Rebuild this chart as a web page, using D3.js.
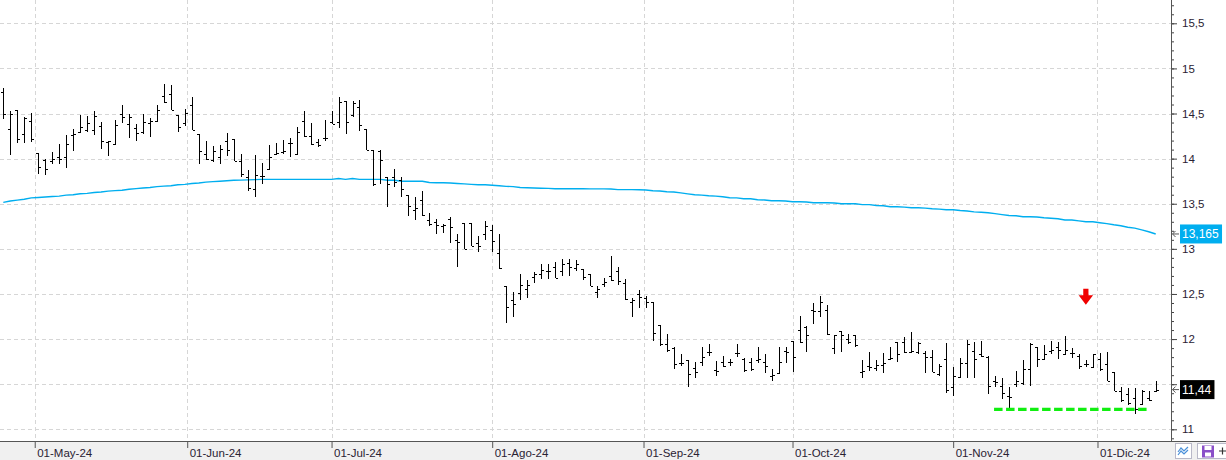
<!DOCTYPE html>
<html><head><meta charset="utf-8">
<script src="https://cdn.jsdelivr.net/npm/d3@7"></script>
<style>
html,body{margin:0;padding:0;background:#fff;}
svg{display:block;font-family:"Liberation Sans",Arial,sans-serif;}
</style></head>
<body>
<svg id="chart" width="1226" height="460"></svg>
<script>
const dates = [
"2024-04-24","2024-04-25","2024-04-26","2024-04-29","2024-04-30",
"2024-05-02","2024-05-03","2024-05-06","2024-05-07","2024-05-08","2024-05-09","2024-05-10","2024-05-13","2024-05-14","2024-05-15","2024-05-16","2024-05-17","2024-05-20","2024-05-21","2024-05-22","2024-05-23","2024-05-24","2024-05-27","2024-05-28","2024-05-29","2024-05-30","2024-05-31",
"2024-06-03","2024-06-04","2024-06-05","2024-06-06","2024-06-07","2024-06-10","2024-06-11","2024-06-12","2024-06-13","2024-06-14","2024-06-17","2024-06-18","2024-06-19","2024-06-20","2024-06-21","2024-06-24","2024-06-25","2024-06-26","2024-06-27","2024-06-28",
"2024-07-01","2024-07-02","2024-07-03","2024-07-04","2024-07-05","2024-07-08","2024-07-09","2024-07-10","2024-07-11","2024-07-12","2024-07-15","2024-07-16","2024-07-17","2024-07-18","2024-07-19","2024-07-22","2024-07-23","2024-07-24","2024-07-25","2024-07-26","2024-07-29","2024-07-30","2024-07-31",
"2024-08-01","2024-08-02","2024-08-05","2024-08-06","2024-08-07","2024-08-08","2024-08-09","2024-08-12","2024-08-13","2024-08-14","2024-08-15","2024-08-16","2024-08-19","2024-08-20","2024-08-21","2024-08-22","2024-08-23","2024-08-26","2024-08-27","2024-08-28","2024-08-29","2024-08-30",
"2024-09-02","2024-09-03","2024-09-04","2024-09-05","2024-09-06","2024-09-09","2024-09-10","2024-09-11","2024-09-12","2024-09-13","2024-09-16","2024-09-17","2024-09-18","2024-09-19","2024-09-20","2024-09-23","2024-09-24","2024-09-25","2024-09-26","2024-09-27","2024-09-30",
"2024-10-01","2024-10-02","2024-10-03","2024-10-04","2024-10-07","2024-10-08","2024-10-09","2024-10-10","2024-10-11","2024-10-14","2024-10-15","2024-10-16","2024-10-17","2024-10-18","2024-10-21","2024-10-22","2024-10-23","2024-10-24","2024-10-25","2024-10-28","2024-10-29","2024-10-30","2024-10-31",
"2024-11-01","2024-11-04","2024-11-05","2024-11-06","2024-11-07","2024-11-08","2024-11-11","2024-11-12","2024-11-13","2024-11-14","2024-11-15","2024-11-18","2024-11-19","2024-11-20","2024-11-21","2024-11-22","2024-11-25","2024-11-26","2024-11-27","2024-11-28","2024-11-29",
"2024-12-02","2024-12-03","2024-12-04","2024-12-05","2024-12-06","2024-12-09","2024-12-10","2024-12-11","2024-12-12"
];
const openV = [14.74,14.33,14.54,14.27,14.42,14.06,13.98,13.97,14.02,14.02,14.26,14.29,14.32,14.32,14.36,14.18,14.16,14.50,14.38,14.34,14.30,14.40,14.42,14.69,14.72,14.48,14.40,14.60,14.27,14.05,13.99,14.02,14.20,14.22,13.97,13.80,13.66,13.81,13.88,14.05,14.07,14.17,14.05,14.42,14.25,14.18,14.23,14.41,14.41,14.64,14.48,14.57,14.33,14.10,14.08,13.80,13.80,13.76,13.60,13.43,13.54,13.32,13.30,13.25,13.33,13.10,13.29,13.29,13.06,13.16,13.21,12.95,12.59,12.43,12.51,12.55,12.69,12.72,12.76,12.80,12.75,12.84,12.79,12.78,12.72,12.52,12.61,12.70,12.76,12.62,12.41,12.50,12.46,12.41,12.16,11.94,11.90,11.74,11.77,11.68,11.75,11.86,11.66,11.75,11.75,11.85,11.78,11.75,11.77,11.75,11.59,11.62,11.87,11.98,12.10,12.13,12.32,12.31,12.32,11.90,12.09,12.00,12.05,11.64,11.70,11.68,11.71,11.78,11.97,11.97,11.86,11.86,11.85,11.80,11.61,11.78,11.47,11.58,11.74,11.87,11.83,11.80,11.53,11.48,11.37,11.50,11.51,11.67,11.91,11.78,11.87,11.91,11.84,11.85,11.81,11.72,11.69,11.78,11.72,11.64,11.43,11.39,11.35,11.28,11.35,11.43];
const highV = [14.78,14.53,14.54,14.46,14.51,14.06,14.00,14.07,14.16,14.26,14.33,14.48,14.47,14.53,14.41,14.19,14.43,14.59,14.50,14.38,14.50,14.45,14.60,14.83,14.82,14.48,14.55,14.68,14.27,14.20,14.14,14.15,14.28,14.22,14.05,13.87,14.04,13.95,14.15,14.17,14.21,14.23,14.35,14.53,14.39,14.22,14.43,14.53,14.68,14.64,14.64,14.65,14.33,14.10,14.10,13.80,13.88,13.80,13.60,13.57,13.64,13.40,13.33,13.27,13.35,13.16,13.29,13.29,13.14,13.31,13.26,13.16,12.59,12.52,12.72,12.65,12.74,12.83,12.83,12.85,12.89,12.89,12.88,12.78,12.72,12.59,12.68,12.92,12.80,12.67,12.46,12.54,12.48,12.41,12.16,12.06,11.91,11.83,11.77,11.75,11.91,11.94,11.76,11.81,11.78,11.94,11.79,11.79,11.91,11.83,11.67,11.91,11.91,11.98,12.26,12.14,12.40,12.48,12.38,12.05,12.09,12.06,12.05,11.77,11.86,11.77,11.85,11.91,11.97,12.02,12.08,11.97,11.87,11.88,11.72,11.96,11.69,11.79,11.99,11.97,11.98,11.81,11.59,11.57,11.47,11.65,11.77,11.96,11.91,11.93,11.98,11.97,12.03,11.90,11.83,11.77,11.83,11.85,11.86,11.64,11.47,11.46,11.46,11.44,11.43,11.54];
const lowV = [14.44,14.04,14.17,14.17,14.18,13.83,13.82,13.94,13.94,13.90,14.09,14.29,14.29,14.26,14.11,14.03,14.16,14.40,14.23,14.19,14.27,14.24,14.42,14.62,14.54,14.30,14.36,14.32,13.94,13.98,13.96,13.94,14.03,13.97,13.80,13.64,13.58,13.72,13.88,14.04,14.05,14.02,14.05,14.24,14.15,14.13,14.19,14.38,14.34,14.27,14.46,14.31,14.10,13.70,13.72,13.46,13.69,13.58,13.36,13.32,13.36,13.25,13.16,13.18,13.07,12.80,13.00,13.03,12.96,13.10,12.97,12.78,12.18,12.25,12.43,12.46,12.62,12.67,12.67,12.68,12.70,12.70,12.75,12.65,12.59,12.46,12.58,12.64,12.60,12.43,12.25,12.35,12.35,11.98,11.92,11.86,11.67,11.70,11.47,11.57,11.70,11.81,11.59,11.69,11.70,11.80,11.64,11.65,11.74,11.62,11.53,11.61,11.73,11.64,11.96,11.86,12.17,12.24,12.04,11.84,11.86,11.94,11.91,11.57,11.65,11.65,11.62,11.77,11.75,11.85,11.85,11.84,11.62,11.63,11.59,11.40,11.37,11.58,11.57,11.57,11.80,11.39,11.47,11.34,11.22,11.47,11.49,11.48,11.69,11.77,11.84,11.78,11.83,11.79,11.67,11.69,11.69,11.65,11.54,11.43,11.30,11.27,11.17,11.27,11.31,11.41];
const closeV = [14.50,14.50,14.22,14.45,14.22,13.91,13.89,14.00,14.00,14.16,14.27,14.35,14.40,14.47,14.19,14.19,14.37,14.46,14.46,14.28,14.41,14.42,14.54,14.63,14.54,14.35,14.51,14.32,14.08,14.00,14.08,14.11,14.10,13.97,13.83,13.67,13.82,13.81,14.02,14.06,14.08,14.17,14.30,14.25,14.16,14.15,14.23,14.38,14.63,14.41,14.62,14.37,14.10,13.72,13.99,13.72,13.74,13.66,13.48,13.45,13.38,13.27,13.26,13.26,13.24,13.08,13.00,13.03,13.03,13.25,13.09,12.79,12.36,12.39,12.60,12.60,12.72,12.77,12.76,12.68,12.83,12.80,12.83,12.69,12.59,12.55,12.63,12.66,12.64,12.44,12.43,12.47,12.41,12.07,11.95,11.88,11.72,11.74,11.61,11.63,11.80,11.86,11.65,11.70,11.75,11.85,11.66,11.67,11.78,11.70,11.60,11.75,11.86,11.80,11.97,12.05,12.31,12.41,12.06,12.04,12.04,11.97,11.93,11.65,11.69,11.71,11.74,11.79,11.83,11.86,11.87,11.96,11.80,11.64,11.70,11.44,11.59,11.74,11.94,11.78,11.81,11.48,11.52,11.40,11.36,11.54,11.67,11.94,11.78,11.83,11.88,11.88,11.88,11.85,11.70,11.72,11.83,11.67,11.54,11.43,11.32,11.29,11.22,11.43,11.33,11.44];
const maV = [13.515,13.53,13.54,13.55,13.565,13.57,13.575,13.58,13.585,13.595,13.60,13.61,13.615,13.625,13.63,13.64,13.645,13.65,13.66,13.667,13.675,13.68,13.69,13.695,13.70,13.71,13.715,13.725,13.73,13.74,13.745,13.75,13.755,13.76,13.762,13.765,13.767,13.77,13.77,13.77,13.77,13.77,13.77,13.77,13.77,13.77,13.77,13.77,13.78,13.77,13.78,13.77,13.77,13.77,13.77,13.76,13.76,13.75,13.75,13.75,13.75,13.735,13.733,13.733,13.73,13.725,13.72,13.715,13.71,13.71,13.705,13.70,13.693,13.69,13.68,13.678,13.675,13.672,13.67,13.667,13.667,13.667,13.667,13.667,13.665,13.665,13.665,13.663,13.656,13.656,13.656,13.655,13.652,13.644,13.642,13.633,13.63,13.62,13.61,13.60,13.596,13.589,13.585,13.578,13.567,13.565,13.556,13.556,13.544,13.542,13.533,13.533,13.53,13.522,13.522,13.52,13.511,13.511,13.511,13.508,13.50,13.50,13.50,13.49,13.49,13.48,13.478,13.467,13.467,13.462,13.456,13.456,13.452,13.444,13.44,13.433,13.433,13.425,13.42,13.41,13.405,13.40,13.39,13.38,13.37,13.367,13.356,13.356,13.353,13.344,13.34,13.333,13.32,13.32,13.31,13.30,13.30,13.29,13.28,13.267,13.256,13.24,13.23,13.21,13.19,13.165];
const yTicks = [11,11.5,12,12.5,13,13.5,14,14.5,15,15.5];
const monthTickDates = ["2024-05-01","2024-06-01","2024-07-01","2024-08-01","2024-09-01","2024-10-01","2024-11-01","2024-12-01"];
const monthLabels = ["01-May-24","01-Jun-24","01-Jul-24","01-Ago-24","01-Sep-24","01-Oct-24","01-Nov-24","01-Dic-24"];
const signalDate = "2024-11-28";
const signalPrice = 12.38;
const supportLevel = 11.22;
const supportStart = "2024-11-11";
const supportEnd = "2024-12-11";

const W = 1226, H = 460;
const plotRight = 1171, plotBottom = 441;
const svg = d3.select("#chart");
const parse = d3.timeParse("%Y-%m-%d");
const locale = d3.formatLocale({decimal:",", thousands:".", grouping:[3], currency:["","€"]});
const fmtNum = v => locale.format("~f")(+v.toFixed(1));

const x = d3.scalePoint().domain(dates).range([3.3, 1155.7]);
const idx = d3.scaleLinear().domain([0, dates.length-1]).range([3.3, 1155.7]);
const y = d3.scaleLinear().domain([11, 15.5]).range([429.3, 23.3]);

const times = dates.map(d => parse(d).getTime());
function fracIndex(ds){
  const t = parse(ds).getTime();
  let i = d3.bisectRight(times, t) - 1;
  if (i < 0) return 0;
  if (i >= times.length-1) return times.length-1;
  return i + (t - times[i])/(times[i+1]-times[i]);
}

const lastMA = maV[maV.length-1], lastClose = closeV[closeV.length-1];
// tick labels hidden behind the value boxes (as in the original)
const hiddenTick = v => Math.abs(y(v) - y(lastMA)) < 10 || Math.abs(y(v) - y(lastClose)) < 10;

svg.append("rect").attr("x",0).attr("y",0).attr("width",W).attr("height",H).attr("fill","#fff");

// grid
const grid = svg.append("g").attr("stroke","#d6d6d6").attr("stroke-width",1).attr("stroke-dasharray","4,3");
yTicks.forEach(v=>{
  const yy = Math.round(y(v))+0.5;
  grid.append("line").attr("x1",0).attr("x2",plotRight).attr("y1",yy).attr("y2",yy);
});
const monthIdx = monthTickDates.map(fracIndex);
monthIdx.forEach(fi=>{
  const xx = Math.round(idx(fi))+0.5;
  grid.append("line").attr("x1",xx).attr("x2",xx).attr("y1",0).attr("y2",plotBottom);
});

// moving average
svg.append("path")
  .datum(maV)
  .attr("fill","none").attr("stroke","#00aeef").attr("stroke-width",1.4)
  .attr("d", d3.line().x((d,i)=>x(dates[i])).y(d=>y(d)));

// OHLC bars
const bars = svg.append("g").attr("stroke","#000").attr("stroke-width",1.2).attr("shape-rendering","crispEdges");
dates.forEach((d,i)=>{
  const xx = Math.round(x(d))+0.5;
  bars.append("line").attr("x1",xx).attr("x2",xx).attr("y1",y(highV[i])).attr("y2",y(lowV[i]));
  bars.append("line").attr("x1",xx-2.5).attr("x2",xx).attr("y1",Math.round(y(openV[i]))+0.5).attr("y2",Math.round(y(openV[i]))+0.5);
  bars.append("line").attr("x1",xx).attr("x2",xx+2.5).attr("y1",Math.round(y(closeV[i]))+0.5).attr("y2",Math.round(y(closeV[i]))+0.5);
});

// support dashed line
svg.append("line")
  .attr("x1", x(supportStart)-1).attr("x2", x(supportEnd)-2)
  .attr("y1", y(supportLevel)).attr("y2", y(supportLevel))
  .attr("stroke","#11ee11").attr("stroke-width",3.2).attr("stroke-dasharray","8.5,3.5");

// signal arrow
{
  const x0 = x(signalDate), y0 = y(signalPrice);
  svg.append("path")
    .attr("d",`M${x0},${y0} L${x0-7.2},${y0-9.5} L${x0-2.6},${y0-9.5} L${x0-2.6},${y0-16} L${x0+2.6},${y0-16} L${x0+2.6},${y0-9.5} L${x0+7.2},${y0-9.5} Z`)
    .attr("fill","#f00000");
}

// bottom strip
svg.append("rect").attr("x",0).attr("y",plotBottom).attr("width",W).attr("height",H-plotBottom).attr("fill","#f0f0f0");

// right axis
const yAxisMinor = d3.axisRight(y).tickValues(d3.range(10.9, 15.8, 0.1)).tickSize(3).tickFormat("");
const gMinor = svg.append("g").attr("transform",`translate(${plotRight},0)`).call(yAxisMinor);
gMinor.select(".domain").remove();
gMinor.selectAll("line").attr("stroke","#444");
const yAxis = d3.axisRight(y).tickValues(yTicks).tickSize(6).tickPadding(5)
  .tickFormat(v => hiddenTick(v) ? "" : fmtNum(v));
const gY = svg.append("g").attr("transform",`translate(${plotRight},0)`).call(yAxis);
gY.select(".domain").remove();
gY.selectAll("line").attr("stroke","#444");
gY.selectAll("text").attr("fill","#2a2233").attr("font-size","11.5px").attr("font-family","'Liberation Sans',Arial,sans-serif");
svg.append("line").attr("x1",plotRight+0.5).attr("x2",plotRight+0.5).attr("y1",0).attr("y2",plotBottom).attr("stroke","#555");

// bottom axis
const xAxis = d3.axisBottom(idx).tickValues(monthIdx).tickSize(7).tickPadding(1).tickFormat((d,i)=>monthLabels[i]);
const gX = svg.append("g").attr("transform",`translate(0,${plotBottom})`).call(xAxis);
gX.select(".domain").remove();
gX.selectAll("line").attr("stroke","#555");
gX.selectAll("text").attr("text-anchor","start").attr("dx","2").attr("fill","#2a2233").attr("font-size","11.5px").attr("font-family","'Liberation Sans',Arial,sans-serif");
svg.append("line").attr("x1",0).attr("x2",W).attr("y1",plotBottom+0.5).attr("y2",plotBottom+0.5).attr("stroke","#555");

// value labels
function valueLabel(v, fill, txt){
  const yy = y(v);
  const t = svg.append("text").attr("x",1182).attr("y",yy).attr("dy","0.36em")
    .attr("font-size","12px").attr("fill","#fff").text(txt);
  const bb = t.node().getBBox();
  svg.insert("rect", () => t.node()).attr("x",1180).attr("y",yy-9.5).attr("width",bb.width+5).attr("height",19).attr("fill",fill);
  svg.append("path").attr("d",`M${plotRight+8},${yy} H${plotRight+1.5} M${plotRight+4.5},${yy-3} L${plotRight+1.5},${yy} L${plotRight+4.5},${yy+3}`)
    .attr("fill","none").attr("stroke","#555").attr("stroke-width",1);
}
valueLabel(lastMA, "#00aeef", locale.format(".3f")(lastMA));
valueLabel(lastClose, "#000", locale.format(".2f")(lastClose));

// bottom-right toolbar icons
svg.append("rect").attr("x",1175.5).attr("y",443.5).attr("width",16).attr("height",15).attr("fill","#fff").attr("stroke","#b8b8c8");
svg.append("path").attr("d","M1178,452 L1181,448 L1184,451 L1188,447 M1178,455 L1181,451 L1184,454 L1188,450").attr("fill","none").attr("stroke","#4a90d9").attr("stroke-width",1.2);
svg.append("rect").attr("x",1197.5).attr("y",443.5).attr("width",40).attr("height",15).attr("fill","#fff").attr("stroke","#b8b8c8");
svg.append("rect").attr("x",1202).attr("y",445.5).attr("width",12).attr("height",12).attr("fill","#8a4fc8");
svg.append("rect").attr("x",1204.5).attr("y",446).attr("width",7).attr("height",4).attr("fill","#fff");
svg.append("rect").attr("x",1205).attr("y",452.5).attr("width",6).attr("height",4).attr("fill","#fff");
svg.append("path").attr("d","M1219,451 H1226 M1222.5,447.5 V454.5").attr("stroke","#333").attr("stroke-width",1.2);
</script>
</body></html>
